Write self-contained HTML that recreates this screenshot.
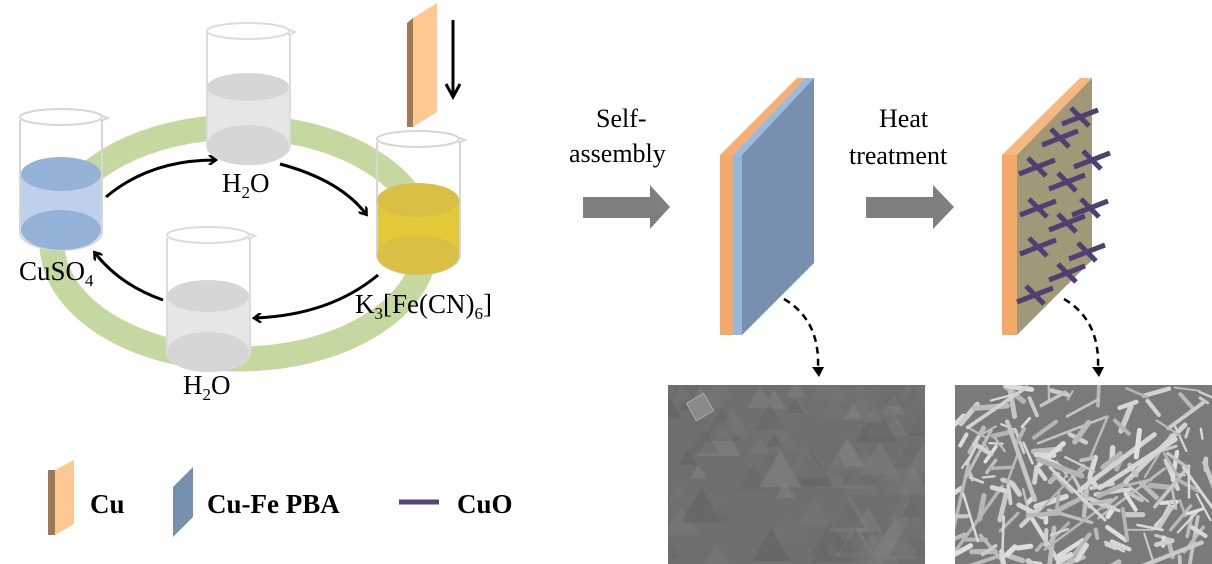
<!DOCTYPE html>
<html><head><meta charset="utf-8"><style>
html,body{margin:0;padding:0;background:#fff;width:1212px;height:564px;overflow:hidden;}
svg{display:block;}
text{font-family:"Liberation Serif",serif;fill:#000;}
</style></head><body>
<svg id="s" width="1212" height="564" viewBox="0 0 1212 564" xmlns="http://www.w3.org/2000/svg">
<defs>
<marker id="ah" markerWidth="10" markerHeight="10" refX="7" refY="5" orient="auto" markerUnits="userSpaceOnUse">
<path d="M1,0 L8,5 L1,10" fill="none" stroke="#000" stroke-width="2.5"/>
</marker>
<clipPath id="c1"><rect x="668" y="385" width="257" height="179"/></clipPath>
<clipPath id="c2"><rect x="955" y="385" width="257" height="179"/></clipPath>
</defs>

<!-- green ring -->
<ellipse cx="239" cy="243" rx="187" ry="116" fill="none" stroke="#c4d89f" stroke-width="25"/>

<!-- CuSO4 beaker -->
<g>
<path d="M20,120 L20,232 A41,18 0 0 0 102,232 L102,120" fill="none" stroke="#d6d6d6" stroke-width="2"/>
<path d="M21,175 L21,230 A40,18 0 0 0 101,230 L101,175 Z" fill="#bfd0ea"/>
<ellipse cx="61" cy="230" rx="40" ry="20" fill="#95b3d9"/>
<ellipse cx="61" cy="174" rx="40" ry="17" fill="#95b3d9"/>
<ellipse cx="61" cy="117" rx="41" ry="8" fill="none" stroke="#d6d6d6" stroke-width="2"/>
<path d="M100,115 L108,118 L101,121" fill="none" stroke="#d6d6d6" stroke-width="2"/>
</g>
<!-- top H2O beaker -->
<g>
<path d="M207,33 L207,145 A41,19 0 0 0 290,145 L290,33" fill="none" stroke="#dcdcdc" stroke-width="2"/>
<path d="M208,86 L208,145 A41,19 0 0 0 289,145 L289,86 Z" fill="#e6e6e6"/>
<ellipse cx="248" cy="145" rx="41" ry="20" fill="#d6d6d6"/>
<ellipse cx="248" cy="87" rx="41" ry="14" fill="#d6d6d6"/>
<ellipse cx="248" cy="31" rx="41" ry="8" fill="none" stroke="#dcdcdc" stroke-width="2"/>
<path d="M287,29 L295,32 L288,35" fill="none" stroke="#dcdcdc" stroke-width="2"/>
</g>
<!-- K3 beaker -->
<g>
<path d="M377,142 L377,255 A41,19 0 0 0 460,255 L460,142" fill="none" stroke="#d6d6d6" stroke-width="2"/>
<path d="M378,200 L378,255 A41,19 0 0 0 459,255 L459,200 Z" fill="#e3c838"/>
<ellipse cx="418" cy="255" rx="41" ry="20" fill="#d9c044"/>
<ellipse cx="418" cy="200" rx="41" ry="17" fill="#d9c044"/>
<ellipse cx="418" cy="139" rx="41" ry="8" fill="none" stroke="#d6d6d6" stroke-width="2"/>
<path d="M457,137 L465,140 L458,143" fill="none" stroke="#d6d6d6" stroke-width="2"/>
</g>
<!-- bottom H2O beaker -->
<g>
<path d="M167,238 L167,352 A41,19 0 0 0 250,352 L250,238" fill="none" stroke="#dcdcdc" stroke-width="2"/>
<path d="M168,296 L168,352 A41,19 0 0 0 249,352 L249,296 Z" fill="#e6e6e6"/>
<ellipse cx="208" cy="352" rx="41" ry="20" fill="#d6d6d6"/>
<ellipse cx="208" cy="296" rx="41" ry="16" fill="#d6d6d6"/>
<ellipse cx="208" cy="235" rx="41" ry="8" fill="none" stroke="#dcdcdc" stroke-width="2"/>
<path d="M247,233 L255,236 L248,239" fill="none" stroke="#dcdcdc" stroke-width="2"/>
</g>

<!-- cu strip top -->
<polygon points="407,23 413,18 413,127 407,127" fill="#9c7a56"/>
<polygon points="413,18 437,3 437,112 413,127" fill="#fdc891"/>
<line x1="453" y1="20" x2="453" y2="96" stroke="#000" stroke-width="3"/>
<path d="M446,84 L453,97 L460,84" fill="none" stroke="#000" stroke-width="3"/>

<!-- cycle arrows -->
<path d="M106,197 Q150,160 215,160" fill="none" stroke="#000" stroke-width="3" marker-end="url(#ah)"/>
<path d="M280,164 Q340,180 366,214" fill="none" stroke="#000" stroke-width="3" marker-end="url(#ah)"/>
<path d="M378,275 Q330,315 255,318" fill="none" stroke="#000" stroke-width="3" marker-end="url(#ah)"/>
<path d="M163,300 Q120,285 95,253" fill="none" stroke="#000" stroke-width="3" marker-end="url(#ah)"/>

<!-- labels -->
<text x="222" y="192" font-size="27">H<tspan font-size="17" dy="6">2</tspan><tspan dy="-6">O</tspan></text>
<text x="19" y="280" font-size="27">CuSO<tspan font-size="17" dy="6">4</tspan></text>
<text x="355" y="313" font-size="27">K<tspan font-size="17" dy="6">3</tspan><tspan dy="-6">[Fe(CN)</tspan><tspan font-size="17" dy="6">6</tspan><tspan dy="-6">]</tspan></text>
<text x="183" y="394" font-size="27">H<tspan font-size="17" dy="6">2</tspan><tspan dy="-6">O</tspan></text>

<!-- self assembly -->
<text x="596" y="127" font-size="26">Self-</text>
<text x="569" y="162" font-size="26">assembly</text>
<polygon points="583,197 650,197 650,185 670,207 650,229 650,218 583,218" fill="#7f7f7f"/>
<text x="879" y="127" font-size="26">Heat</text>
<text x="849" y="164" font-size="26">treatment</text>
<polygon points="866,197 933,197 933,185 954,207 933,229 933,218 866,218" fill="#7f7f7f"/>

<!-- plate 1 -->
<polygon points="720,155 797,78 805,78 733,155" fill="#f7ae6f"/>
<polygon points="733,155 805,78 814,78 742,155" fill="#9db9dc"/>
<rect x="720" y="155" width="13" height="180" fill="#f5a968"/>
<rect x="733" y="155" width="9" height="180" fill="#97b6dc"/>
<polygon points="742,155 814,78 814,263 742,335" fill="#7890b0"/>
<path d="M784,299 Q820,320 818,368" fill="none" stroke="#000" stroke-width="2.5" stroke-dasharray="7,5"/>
<path d="M812,367 L819,377 L824,367 Z" fill="#000"/>

<!-- plate 2 -->
<polygon points="1002,155 1080,78 1092,78 1017,155" fill="#f7b780"/>
<rect x="1002" y="155" width="15" height="180" fill="#f5a968"/>
<polygon points="1017,155 1092,78 1092,260 1017,335" fill="#a09876"/>
<g id="crosses" stroke="#4f3f72" stroke-width="5" stroke-linecap="butt"></g>
<path d="M1064,299 Q1100,320 1098,368" fill="none" stroke="#000" stroke-width="2.5" stroke-dasharray="7,5"/>
<path d="M1092,367 L1099,377 L1104,367 Z" fill="#000"/>

<!-- SEM images -->
<g clip-path="url(#c1)">
<rect x="668" y="385" width="257" height="179" fill="#6f6f6f"/>
<g id="sem1"></g>
</g>
<g clip-path="url(#c2)">
<rect x="955" y="385" width="257" height="179" fill="#7a7a7a"/>
<g id="sem2"></g>
</g>

<!-- legend -->
<polygon points="48,470 55,470 55,535 48,535" fill="#9c7a56"/>
<polygon points="55,470 74,460 74,524 55,535" fill="#fdc891"/>
<text x="90" y="513" font-size="27" font-weight="bold">Cu</text>
<polygon points="173,487 193,467 193,517 173,537" fill="#7890b0"/>
<text x="207" y="513" font-size="27" font-weight="bold">Cu-Fe PBA</text>
<line x1="399" y1="502" x2="439" y2="502" stroke="#55457a" stroke-width="5"/>
<text x="457" y="513" font-size="27" font-weight="bold">CuO</text>
</svg>
<script>
(function(){
var NS="http://www.w3.org/2000/svg";
function el(p,t,a){var e=document.createElementNS(NS,t);for(var k in a)e.setAttribute(k,a[k]);p.appendChild(e);return e;}
var cr=document.getElementById("crosses");
var c=[[1080,117],[1060,138],[1037,167],[1092,160],[1067,182],[1038,208],[1090,208],[1067,223],[1038,247],[1087,252],[1067,273],[1035,295]];
c.forEach(function(p){
el(cr,"line",{x1:p[0]-18,y1:p[1]+7,x2:p[0]+18,y2:p[1]-7});
el(cr,"line",{x1:p[0]-9,y1:p[1]-9,x2:p[0]+9,y2:p[1]+9});
});
var seed=7;function r(){seed=(seed*16807)%2147483647;return seed/2147483647;}
var s1=document.getElementById("sem1");
for(var i=0;i<110;i++){
var x=668+r()*257,y=385+r()*179,sz=8+r()*14,g=Math.floor(95+r()*40);
el(s1,"polygon",{points:x+","+(y-sz)+" "+(x+sz)+","+(y+sz*0.7)+" "+(x-sz)+","+(y+sz*0.7),fill:"rgb("+g+","+g+","+g+")",opacity:"0.5"});
}
el(s1,"rect",{x:690,y:397,width:20,height:20,fill:"#8a8a8a",stroke:"#aaa",transform:"rotate(-30 700 407)"});
var s2=document.getElementById("sem2");
for(var j=0;j<200;j++){
var x0=955+r()*257,y0=385+r()*179,a=r()*Math.PI,L=8+r()*(r()<0.3?90:25);
var x1=x0+Math.cos(a)*L,y1=y0+Math.sin(a)*L;
var g2=Math.floor(180+r()*45);
el(s2,"line",{x1:x0,y1:y0,x2:x1,y2:y1,stroke:"rgb("+g2+","+g2+","+g2+")","stroke-width":(2+r()*3.5).toFixed(1),"stroke-linecap":"round"});
}
})();
</script>
</body></html>
